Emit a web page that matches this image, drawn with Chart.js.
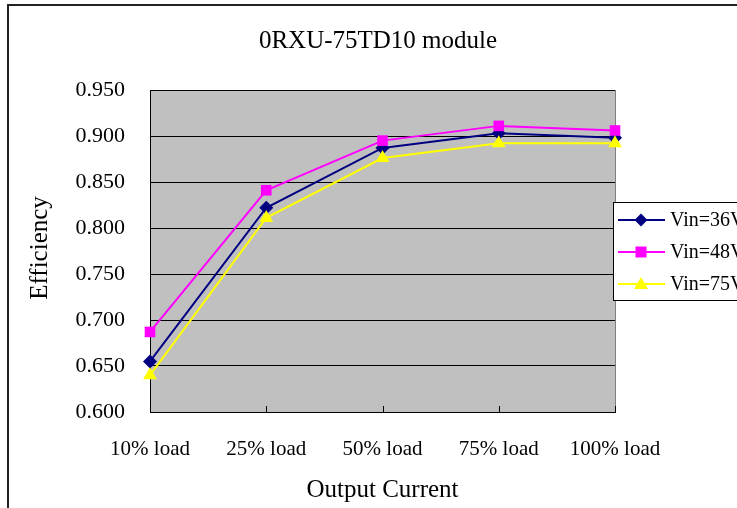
<!DOCTYPE html>
<html>
<head>
<meta charset="utf-8">
<script src="https://cdn.jsdelivr.net/npm/chart.js@4.4.0/dist/chart.umd.min.js"></script>
<style>
  html, body { margin: 0; padding: 0; background: #fff; overflow: hidden; }
  #wrap { width: 737px; height: 508px; }
</style>
</head>
<body>
<div id="wrap"><canvas id="chart" width="737" height="508"></canvas></div>
<script>
(function () {
  // --- Data ---
  const categories = ["10% load", "25% load", "50% load", "75% load", "100% load"];
  const vin36 = [0.655, 0.822, 0.887, 0.903, 0.898];
  const vin48 = [0.687, 0.841, 0.895, 0.911, 0.906];
  const vin75 = [0.640, 0.811, 0.876, 0.892, 0.892];
  const seriesNames = ["Vin=36V", "Vin=48V", "Vin=75V"];
  const titleText = "0RXU-75TD10 module";
  const xTitle = "Output Current";
  const yTitle = "Efficiency";

  const SERIF = '"Liberation Serif", "Times New Roman", serif';
  const colors = ["#000080", "#ff00ff", "#ffff00"];
  const markers = ["rectRot", "rect", "triangle"];

  function marker(ctx, type, x, y, color) {
    ctx.fillStyle = color;
    ctx.beginPath();
    if (type === "rectRot") {
      ctx.moveTo(x, y - 6.5); ctx.lineTo(x + 6.5, y); ctx.lineTo(x, y + 6.5); ctx.lineTo(x - 6.5, y);
    } else if (type === "rect") {
      ctx.rect(x - 5.5, y - 5.5, 11, 11);
    } else {
      ctx.moveTo(x, y - 7); ctx.lineTo(x + 7, y + 5); ctx.lineTo(x - 7, y + 5);
    }
    ctx.closePath();
    ctx.fill();
  }

  // --- Decorations: frame, plot background, titles, legend ---
  const decor = {
    id: "decor",
    beforeDraw(chart) {
      const { ctx, chartArea: a } = chart;
      ctx.save();
      ctx.fillStyle = "#fff";
      ctx.fillRect(0, 0, chart.width, chart.height);
      ctx.strokeStyle = "#222";
      ctx.lineWidth = 2;
      ctx.strokeRect(8, 5, chart.width + 20, chart.height + 20);
      ctx.fillStyle = "#c0c0c0";
      ctx.fillRect(a.left, a.top, a.right - a.left, a.bottom - a.top);
      ctx.restore();
    },
    beforeDatasetsDraw(chart) {
      const { ctx, chartArea: a } = chart;
      const xs = chart.scales.x;
      ctx.save();
      ctx.strokeStyle = "#808080";
      ctx.lineWidth = 1;
      ctx.beginPath();
      ctx.moveTo(a.right + 0.5, a.top);
      ctx.lineTo(a.right + 0.5, a.bottom);
      ctx.stroke();
      ctx.strokeStyle = "#000";
      categories.forEach((c, i) => {
        const x = Math.round(xs.getPixelForValue(i)) + 0.5;
        ctx.beginPath();
        ctx.moveTo(x, a.bottom - 6);
        ctx.lineTo(x, a.bottom);
        ctx.stroke();
      });
      ctx.restore();
    },
    afterDraw(chart) {
      const { ctx, chartArea: a } = chart;
      ctx.save();
      ctx.fillStyle = "#000";
      ctx.textAlign = "center";
      ctx.textBaseline = "alphabetic";
      ctx.font = "25px " + SERIF;
      ctx.fillText(titleText, 378, 48);
      ctx.fillText(xTitle, (a.left + a.right) / 2, 497);
      ctx.save();
      ctx.translate(47, (a.top + a.bottom) / 2 - 3);
      ctx.rotate(-Math.PI / 2);
      ctx.font = "25px " + SERIF;
      ctx.fillText(yTitle, 0, 0);
      ctx.restore();

      // legend
      ctx.fillStyle = "#fff";
      ctx.fillRect(613, 202, 200, 98);
      ctx.strokeStyle = "#000";
      ctx.lineWidth = 1;
      ctx.strokeRect(613.5, 202.5, 200, 98);
      ctx.font = "20px " + SERIF;
      ctx.textAlign = "left";
      ctx.textBaseline = "middle";
      const rows = [220, 252, 284];
      seriesNames.forEach((name, i) => {
        const y = rows[i];
        ctx.strokeStyle = colors[i];
        ctx.lineWidth = 2;
        ctx.beginPath();
        ctx.moveTo(618, y);
        ctx.lineTo(665, y);
        ctx.stroke();
        marker(ctx, markers[i], 641, y, colors[i]);
        ctx.fillStyle = "#000";
        ctx.fillText(name, 670, y + 1);
      });
      ctx.restore();
    },
  };

  const data = [vin36, vin48, vin75];
  const radii = [7, 7.5, 8];

  new Chart(document.getElementById("chart").getContext("2d"), {
    type: "line",
    data: {
      labels: categories,
      datasets: data.map((vals, i) => ({
        label: seriesNames[i],
        data: vals,
        borderColor: colors[i],
        backgroundColor: colors[i],
        borderWidth: 2,
        pointStyle: markers[i],
        pointRadius: radii[i],
        pointBorderWidth: 0,
        tension: 0,
        clip: false,
        order: 2 - i,
      })),
    },
    options: {
      responsive: false,
      animation: false,
      layout: { padding: { top: 90, right: 122, left: 0, bottom: 0 } },
      plugins: {
        legend: { display: false },
        title: { display: false },
        tooltip: { enabled: false },
      },
      scales: {
        x: {
          offset: false,
          grid: { display: false },
          border: { color: "#000", width: 1 },
          ticks: { color: "#000", font: { family: SERIF, size: 21 }, padding: 17, maxRotation: 0 },
          afterFit: (s) => { s.height = 96; },
        },
        y: {
          min: 0.6,
          max: 0.95,
          grid: { color: "#000", lineWidth: 1, drawTicks: false },
          border: { color: "#000", width: 1 },
          ticks: {
            stepSize: 0.05,
            color: "#000",
            font: { family: SERIF, size: 22 },
            padding: 25,
            callback: (v) => v.toFixed(3),
          },
          afterFit: (s) => { s.width = 150; },
        },
      },
    },
    plugins: [decor],
  });
})();
</script>
</body>
</html>
